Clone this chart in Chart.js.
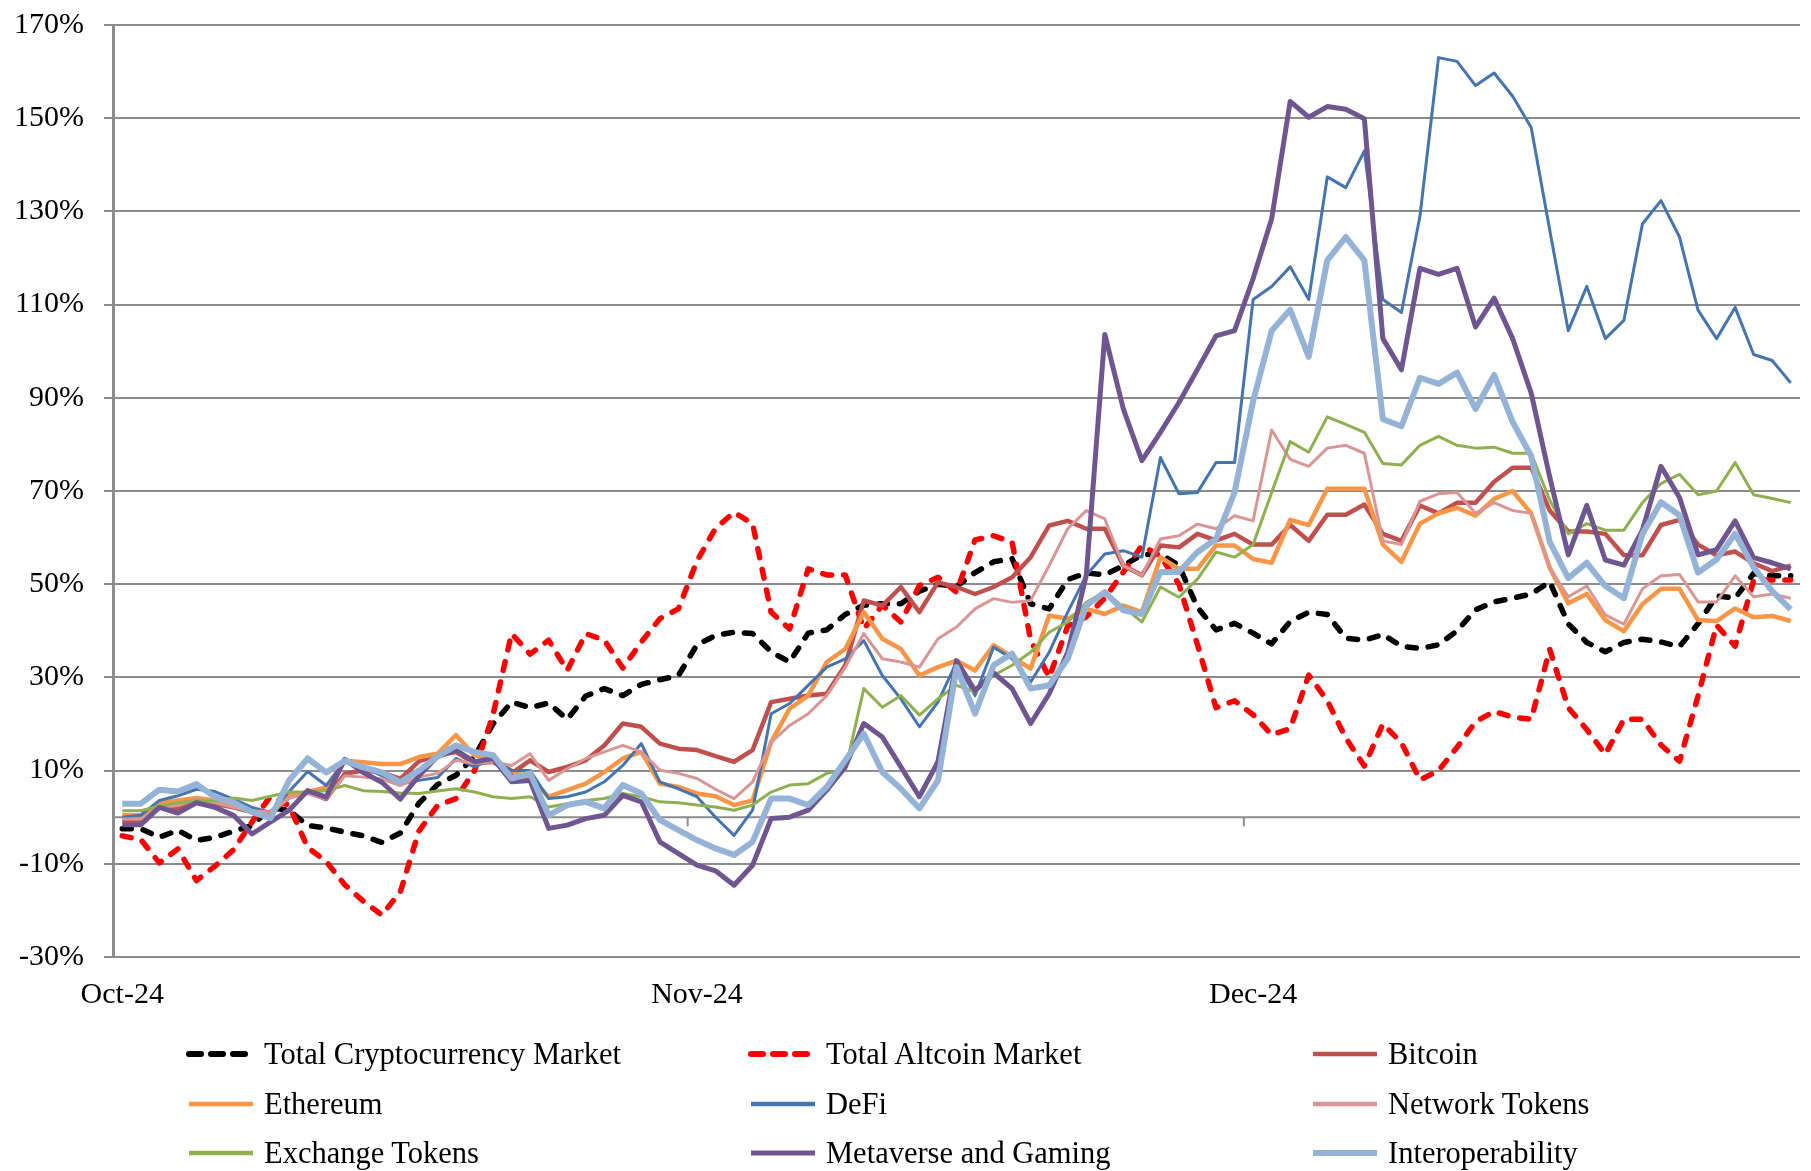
<!DOCTYPE html>
<html>
<head>
<meta charset="utf-8">
<script src="https://cdn.jsdelivr.net/npm/chart.js@4.4.1/dist/chart.umd.min.js"></script>
<style>
  html, body { margin: 0; padding: 0; background: #fff; }
  #wrap { position: relative; width: 1811px; height: 1171px; overflow: hidden; }
  #chart { position: absolute; left: 0; top: -13px; }
  .legend-item {
    position: absolute; height: 40px; display: flex; align-items: center;
    font-family: "Liberation Serif", "Times New Roman", serif; font-size: 30.5px;
    color: #000; white-space: nowrap;
  }
  .legend-item svg { margin-right: 7px; }
</style>
</head>
<body>
<div id="wrap">
  <canvas id="chart" width="1811" height="1184"></canvas>
  <div id="legend"></div>
</div>
<script>
// ======================
// Dados (Oct 1 - Dec 30, 2024, % change)
// ======================
const monthLabels = ['Oct-24', 'Nov-24', 'Dec-24'];
const monthIndex = [0, 31, 61];

const totalCrypto = [-2.5, -2.5, -4.3, -2.8, -5, -4.3, -3, -1.8, 2, 1.5, -1.8, -2.3, -3.2, -4, -5.4, -3.4, 3,
  7, 9, 13, 20, 24.7, 23.5, 24.5, 21, 26, 27.6, 26.1, 28.5, 29.5, 30.4, 37,
  39, 39.7, 39.4, 35.5, 33.3, 39.5, 40.2, 43.5, 45.5, 45.8, 45.8, 48.5, 50, 49.5, 52.5, 54.8,
  55.5, 45.8, 44.7, 51, 52.4, 52, 54, 56.3, 56.5, 54, 45, 40.2, 41.6,
  39.5, 37.2, 42, 44, 43.5, 38.4, 38, 39.2, 36.7, 36.2,
  37, 40, 44.5, 46.2, 47, 47.9, 50.5, 41.5, 37.5, 35.5,
  37.5, 38.2, 37.6, 36.6, 41.5, 47.5, 47, 52.3, 51.8, 51.8];

const totalAltcoin = [-4, -4.8, -9.8, -6.8, -13.6, -10.5, -7, -1, 4.5, 2.5, -6.5, -9.5, -14.5, -18, -21, -16, -3,
  2.5, 4, 10, 22, 39.4, 35, 38, 31.5, 39.4, 38, 32, 37.6, 42.6, 44.7, 55, 62,
  65.4, 63, 44, 40.4, 53.3, 52, 52, 40.4, 45.5, 41.9, 49.7, 51.5, 48.3, 59.5, 60.4,
  59, 38, 30, 41, 43, 47, 52.6, 58.3, 56, 50, 37, 23.5, 25,
  22, 17.7, 19, 30.5, 25, 17, 11, 20, 16, 8, 10,
  15, 20.5, 22.7, 21.5, 21, 36, 23.5, 18.8, 13.5,
  21, 21, 15.5, 12, 26, 41.2, 36.7, 50.9, 50.9, 50.9];

const bitcoin = [-0.7, -0.7, 2.1, 1.9, 3.2, 2.9, 2.1, 1.1, 0.7, 4.3, 5.4, 3.9, 9.3, 10, 9.6, 8.2, 12, 13.3,
  14, 11.5, 11.9, 9.4, 12.2, 9.7, 10.8, 12.2, 15.4, 20.1, 19.4, 15.8, 14.7, 14.4, 13.1,
  11.9, 14.4, 24.7, 25.4, 26.1, 26.5, 32.6, 46.5, 45.4, 49.4, 44, 50.4, 49.4, 47.9, 49.4,
  51.5, 55.8, 62.6, 63.6, 61.9, 61.9, 54, 51.9, 58.3, 57.9, 60.8, 59.4, 60.8,
  58.5, 58.5, 62.7, 59.3, 64.9, 64.9, 67.1, 60.8, 59.3, 66.9,
  65.2, 67.5, 67.5, 72, 75, 75, 65.8, 61.3, 61.3, 60.8,
  56.2, 56.2, 62.7, 63.8, 58.5, 56.2, 57, 54.5, 52.8, 54];

const ethereum = [0.4, 0.4, 3.1, 3.6, 4.1, 3.6, 2.5, 1.1, 1.1, 4.6, 5.4, 6.4, 12.1, 11.8, 11.4, 11.4, 12.9, 13.6,
  17.6, 13.3, 12.6, 10, 8.3, 4.4, 5.8, 7.2, 9.7, 12.6, 14, 7.2, 6.5, 5.1, 4.5,
  2.6, 3.6, 16.1, 23.3, 26.1, 33.3, 36.1, 44, 38.3, 36.1, 30.4, 32.2, 33.6, 31.5, 36.9,
  34.4, 31.9, 43.3, 42.6, 44.7, 43.6, 45.4, 44, 55.8, 53.3, 53.3, 58.3, 58.3,
  55.4, 54.6, 63.8, 62.7, 70.5, 70.5, 70.5, 58.5, 54.8, 63,
  65.2, 66.4, 64.7, 68.3, 70, 65.2, 53.5, 45.9, 47.9, 42.3,
  39.9, 45.7, 49, 49, 42.3, 42.1, 44.8, 42.9, 43.2, 42.1];

const defi = [0, 0.4, 3.6, 4.6, 6, 5.5, 3.9, 2.1, 1, 5.5, 9.8, 6.8, 11.9, 10.7, 8.9, 7.1, 7.9, 8.5,
  12.6, 10.8, 12.6, 10, 10, 4, 4.4, 5.4, 7.6, 11.1, 15.8, 7.6, 6.1, 4.4, 0,
  -3.9, 1.5, 22.2, 24.4, 28.3, 32.2, 34, 37.9, 30.4, 25.4, 19.4, 24.7, 33.3, 26.1, 36.5,
  34, 29, 35.4, 44, 51.9, 56.5, 57.2, 55.8, 77.2, 69.4, 69.7, 76.1, 76.1,
  111.1, 113.9, 118.1, 111.1, 137.4, 135.1, 143, 111.1, 108.3, 129,
  163, 162.2, 157, 159.7, 154.7, 148, 126, 104.4, 113.9, 102.7,
  106.6, 127.3, 132.3, 124.5, 108.8, 102.7, 109.4, 99.3, 98, 93.2];

const networkTokens = [-0.4, -0.4, 2.1, 2.5, 3.9, 3.1, 2.1, 1.4, 1.1, 4.1, 5, 3.9, 8.9, 8.6, 8.2, 6.8, 8.6, 9.4,
  12.2, 11.5, 11.9, 11.1, 13.6, 7.9, 10.4, 12.6, 14, 15.4, 14, 10.1, 9.4, 8.3, 6,
  4, 7.6, 16.1, 19.7, 22.2, 26.1, 32.2, 39.4, 34, 33.3, 32.2, 38.3, 40.8, 44.7, 46.9,
  46.1, 46.5, 54, 61.9, 65.8, 64, 54, 51.9, 59.7, 60.4, 62.9, 61.9, 64.7,
  63.6, 83.1, 76.8, 75.3, 79.2, 79.8, 78.1, 59.3, 58.5, 67.8,
  69.4, 69.7, 65.2, 67.5, 65.8, 65.2, 53.5, 47.3, 49.6, 43.4,
  41.4, 49, 51.8, 52.1, 46.2, 46.2, 51.8, 47.3, 47.9, 47];

const exchangeTokens = [1.4, 1.4, 2.4, 3.1, 3.6, 3.4, 4.1, 3.6, 4.5, 5.4, 5.4, 5.7, 6.8, 5.7, 5.5, 5.2, 5.1, 5.6,
  6.1, 5.4, 4.4, 4, 4.4, 2.2, 2.9, 3.6, 4, 5.1, 4.4, 3.3, 3.1, 2.6, 2.2,
  1.5, 2.6, 5.4, 6.9, 7.2, 9.4, 10.1, 27.6, 23.6, 26.1, 21.9, 25.4, 28.3, 26.9, 30.4,
  32.6, 35.4, 39.7, 41.9, 46.1, 48.3, 45.1, 41.9, 49.4, 47.2, 51.1, 56.9, 55.8,
  58.5, 69.7, 80.6, 78.3, 85.9, 84.3, 82.6, 75.9, 75.6, 79.8,
  81.7, 79.8, 79.2, 79.4, 78.1, 78.1, 68, 60.8, 63, 61.6,
  61.6, 67.5, 71.6, 73.6, 69.2, 70, 76.1, 69.2, 68.4, 67.5];

const metaverse = [-1.6, -1.6, 2.1, 0.9, 3.1, 2.1, 0.4, -3.6, -1, 1.5, 5.7, 4.3, 12.4, 9.6, 7.5, 3.9, 8.9, 13,
  14.4, 11.9, 12.6, 7.6, 7.9, -2.4, -1.7, -0.3, 0.4, 4.7, 3.3, -5.3, -7.8, -10.3, -11.5,
  -14.6, -10.3, -0.3, 0, 1.5, 5.8, 10.8, 20.1, 17.2, 10.8, 4.4, 11.9, 33.6, 27.2, 31,
  27.6, 20.1, 26.5, 35.4, 51.9, 103.6, 87.6, 76.5, 82.6, 89, 96.1, 103.3, 104.4,
  115.6, 128.4, 153.6, 150.2, 152.5, 151.9, 149.9, 102.7, 96, 117.8,
  116.5, 117.8, 105.2, 111.4, 102.7, 91, 73, 56.3, 66.9, 55.2,
  54.1, 61.6, 75.3, 68.6, 56.3, 57.4, 63.6, 55.7, 54.6, 53.3];

const interoperability = [2.9, 2.9, 5.9, 5.5, 7.1, 4.3, 3.2, 1.1, -0.2, 7.9, 12.6, 9.6, 12.1, 10.7, 9.6, 7.5, 10, 13,
  15.4, 14, 13.3, 8.3, 9.4, 0.4, 2.6, 3.3, 1.9, 6.9, 5.1, -0.6, -2.8, -4.9, -6.7,
  -8.1, -5.3, 4, 4, 2.6, 6.5, 12.2, 17.9, 9.7, 6.1, 1.9, 7.9, 32.2, 22.2, 32.6,
  35.1, 27.6, 28.3, 34, 45.4, 48.3, 44.4, 43.6, 52.6, 52.6, 56.9, 59.7, 69.7,
  89.3, 104.4, 108.9, 98.8, 119.5, 124.5, 119.5, 85.4, 83.9, 94.3,
  93, 95.4, 87.6, 94.9, 84.8, 77.5, 59.1, 51.3, 54.6, 49.6,
  47, 60.8, 67.6, 64.8, 52.5, 55.3, 60.8, 53.6, 48.5, 44.6];

// ======================
// Séries: nome, dados, estilo
// ======================
const series = [
  { name: 'Total Cryptocurrency Market', data: totalCrypto, color: '#000000', width: 5.5, dash: true },
  { name: 'Total Altcoin Market', data: totalAltcoin, color: '#FF0000', width: 5.5, dash: true },
  { name: 'Bitcoin', data: bitcoin, color: '#C0504D', width: 4.5 },
  { name: 'Ethereum', data: ethereum, color: '#F79646', width: 4.5 },
  { name: 'DeFi', data: defi, color: '#4575B0', width: 3 },
  { name: 'Network Tokens', data: networkTokens, color: '#D99694', width: 3 },
  { name: 'Exchange Tokens', data: exchangeTokens, color: '#8FB04F', width: 3 },
  { name: 'Metaverse and Gaming', data: metaverse, color: '#6F5690', width: 5 },
  { name: 'Interoperability', data: interoperability, color: '#95B3D7', width: 6 }
];

const gridGray = '#8c8c8c';
const fontFamily = '"Liberation Serif", "Times New Roman", serif';

// labels diários a partir de 1 de outubro
const labels = [];
const start = new Date(2024, 9, 1);
for (let i = 0; i < totalCrypto.length; i++) {
  const d = new Date(start.getFullYear(), start.getMonth(), start.getDate() + i);
  labels.push(d.toISOString().slice(0, 10));
}

// linha do zero + marcas dos meses
const zeroAxis = {
  id: 'zeroAxis',
  beforeDatasetsDraw(chart) {
    const { ctx, chartArea, scales } = chart;
    const y0 = scales.y.getPixelForValue(0);
    ctx.save();
    ctx.strokeStyle = gridGray;
    ctx.lineWidth = 2;
    ctx.beginPath();
    ctx.moveTo(chartArea.left, y0);
    ctx.lineTo(chartArea.right, y0);
    monthIndex.forEach(k => {
      if (k === 0) return;
      const x = (scales.x.getPixelForValue(k - 1) + scales.x.getPixelForValue(k)) / 2;
      ctx.moveTo(x, y0);
      ctx.lineTo(x, y0 + 9);
    });
    ctx.stroke();
    ctx.restore();
  }
};

const ctx = document.getElementById('chart').getContext('2d');
const chart = new Chart(ctx, {
  type: 'line',
  data: {
    labels: labels,
    datasets: series.map((s, idx) => ({
      label: s.name,
      data: s.data,
      borderColor: s.color,
      backgroundColor: s.color,
      borderWidth: s.width,
      borderDash: s.dash ? [9, 12] : [],
      borderCapStyle: s.dash ? 'round' : 'butt',
      borderJoinStyle: 'round',
      pointRadius: 0,
      tension: 0,
      fill: false,
      order: series.length - idx
    }))
  },
  options: {
    responsive: false,
    animation: false,
    devicePixelRatio: 1,
    layout: { padding: { left: 0, right: 11, top: 12, bottom: 154 } },
    plugins: {
      legend: { display: false },
      tooltip: { enabled: false }
    },
    scales: {
      x: {
        type: 'category',
        offset: true,
        grid: { display: false, drawTicks: false },
        border: { display: false },
        ticks: {
          autoSkip: false,
          maxRotation: 0,
          padding: 20,
          color: '#000',
          font: { family: fontFamily, size: 30 },
          callback: (v, i) => {
            const k = monthIndex.indexOf(i);
            return k >= 0 ? monthLabels[k] : '';
          }
        },
        afterFit: s => { s.height = 60; }
      },
      y: {
        min: -30,
        max: 170,
        ticks: {
          stepSize: 20,
          padding: 20,
          color: '#000',
          font: { family: fontFamily, size: 30 },
          callback: v => v + '%'
        },
        grid: { color: gridGray, lineWidth: 2, tickLength: 9, drawTicks: true },
        border: { color: gridGray, width: 3 },
        afterFit: s => { s.width = 113; }
      }
    }
  },
  plugins: [zeroAxis]
});

// ======================
// Legenda (3 colunas)
// ======================
const legendCols = [185, 747, 1309];
const legendRows = [1054, 1104, 1153];
const legendEl = document.getElementById('legend');
series.forEach((s, idx) => {
  const item = document.createElement('div');
  item.className = 'legend-item';
  item.style.left = legendCols[idx % 3] + 'px';
  item.style.top = (legendRows[Math.floor(idx / 3)] - 20) + 'px';
  const dash = s.dash ? 'stroke-dasharray="12 10" stroke-linecap="round"' : 'stroke-linecap="butt"';
  const sw = s.dash ? 6 : Math.max(s.width, 4.5);
  item.innerHTML =
    '<svg width="72" height="14"><line x1="4" y1="7" x2="68" y2="7" stroke="' + s.color +
    '" stroke-width="' + sw + '" ' + dash + '/></svg><span>' + s.name + '</span>';
  legendEl.appendChild(item);
});
</script>
</body>
</html>
